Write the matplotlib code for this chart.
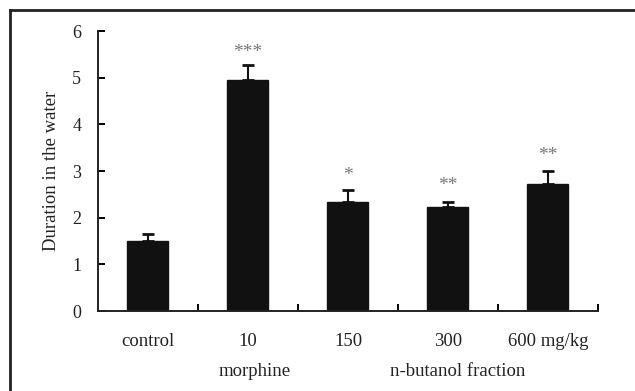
import matplotlib
matplotlib.use("Agg")
import matplotlib.pyplot as plt
from matplotlib.lines import Line2D
import numpy as np

# data
groups = ["control", "10", "150", "300", "600 mg/kg"]
means = [1.51, 4.95, 2.34, 2.23, 2.73]
errs = [0.15, 0.32, 0.25, 0.10, 0.26]
stars = ["", "***", "*", "**", "**"]
star_y = [None, 5.55, 2.9, 2.7, 3.33]

plt.rcParams["font.family"] = ["Liberation Serif", "DejaVu Serif"]

fig = plt.figure(figsize=(6.35, 3.91), dpi=100)
ax = fig.add_axes([0.1543, 0.2046, 0.7874, 0.7161])

x = np.arange(len(groups))
ax.bar(x, means, width=0.41, color="#111111", edgecolor="#111111", zorder=2)
ax.errorbar(x, means, yerr=[np.zeros(len(errs)), errs], fmt="none",
            ecolor="#111111", elinewidth=1.5, capsize=4, capthick=2, zorder=3)

for xi, s, sy in zip(x, stars, star_y):
    if s:
        ax.text(xi, sy, s, ha="center", va="center", fontsize=14, color="#777777")

ax.set_xlim(-0.5, 4.5)
ax.set_ylim(0, 6)
ax.set_yticks(range(7))
ax.spines["top"].set_visible(False)
ax.spines["right"].set_visible(False)
for sp in ("left", "bottom"):
    ax.spines[sp].set_linewidth(1.4)
    ax.spines[sp].set_color("#222222")

ax.tick_params(axis="y", direction="in", length=5, width=1.4, labelsize=13, pad=12,
               labelcolor="#222222")
ax.set_xticks(np.arange(0.5, 5, 1))
ax.set_xticklabels([])
ax.tick_params(axis="x", direction="in", length=5, width=1.4)

for xi, g in zip(x, groups):
    ax.text(xi, -0.66, g, ha="center", va="center", fontsize=13.5, color="#222222")
ax.text(1.07, -1.3, "morphine", ha="center", va="center", fontsize=13.5, color="#222222")
ax.text(3.1, -1.3, "n-butanol fraction", ha="center", va="center", fontsize=13.5, color="#222222")

ax.set_ylabel("Duration in the water", fontsize=13.5, labelpad=9, color="#222222")

# partial frame around the figure (left and top edges only visible)
fig.add_artist(Line2D([10 / 635, 10 / 635], [0, 1 - 10 / 391], transform=fig.transFigure,
                      color="#222222", linewidth=2))
fig.add_artist(Line2D([10 / 635, 1], [1 - 10 / 391, 1 - 10 / 391], transform=fig.transFigure,
                      color="#222222", linewidth=2))

fig.savefig("out.png", dpi=100)
